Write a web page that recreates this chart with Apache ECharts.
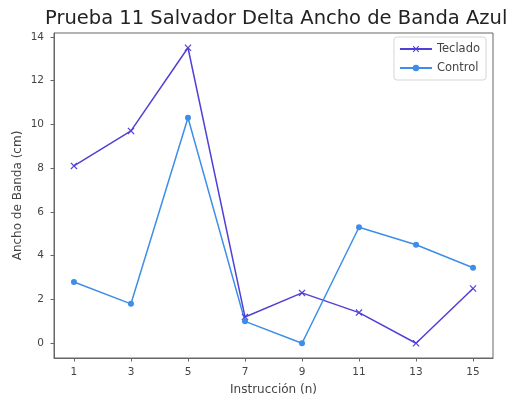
<!DOCTYPE html>
<html>
<head>
<meta charset="utf-8">
<script src="https://cdn.jsdelivr.net/npm/echarts@6/dist/echarts.min.js"></script>
<style>
  html, body { margin: 0; padding: 0; background: #fff; }
  #chart { width: 510px; height: 401px; }
</style>
</head>
<body>
<div id="chart"></div>
<script>
// Instruction numbers and band-width measurements (cm)
const instrucciones = [1, 3, 5, 7, 9, 11, 13, 15];
const teclado = [8.1, 9.7, 13.5, 1.2, 2.3, 1.4, 0.0, 2.5];
const control = [2.8, 1.8, 10.3, 1.0, 0.0, 5.3, 4.5, 3.45];
const xTicks = [1, 3, 5, 7, 9, 11, 13, 15];
const yTicks = [0, 2, 4, 6, 8, 10, 12, 14];

const font = 'DejaVu Sans';
const crossPath = 'path://M0,1.2L1.2,0L5,3.8L8.8,0L10,1.2L6.2,5L10,8.8L8.8,10L5,6.2L1.2,10L0,8.8L3.8,5Z';

const chart = echarts.init(document.getElementById('chart'));
chart.setOption({
  animation: false,
  backgroundColor: '#fff',
  title: {
    text: 'Prueba 11 Salvador Delta Ancho de Banda Azul',
    left: 40,
    top: 4,
    textStyle: { fontFamily: font, fontSize: 19.5, fontWeight: 'normal', color: '#222' }
  },
  legend: {
    right: 24,
    top: 37,
    orient: 'vertical',
    itemWidth: 32,
    itemHeight: 8,
    itemGap: 7,
    padding: [6, 6, 6, 5],
    backgroundColor: '#fff',
    borderColor: '#d6d6d6',
    borderWidth: 1,
    borderRadius: 3,
    textStyle: { fontFamily: font, fontSize: 11.5, color: '#444' },
    data: ['Teclado', 'Control']
  },
  grid: {
    left: 54, right: 17, top: 33, bottom: 41,
    show: true, borderColor: '#666', borderWidth: 1, backgroundColor: '#fff'
  },
  xAxis: {
    type: 'value',
    min: 0.3,
    max: 15.7,
    name: 'Instrucción (n)',
    nameLocation: 'middle',
    nameGap: 26,
    nameTextStyle: { fontFamily: font, fontSize: 12, color: '#444' },
    axisLine: { show: true, onZero: false, lineStyle: { color: '#666' } },
    axisTick: { show: true, length: 3.5, lineStyle: { color: '#666' }, customValues: xTicks },
    axisLabel: { fontFamily: font, fontSize: 10.5, color: '#444', margin: 9, customValues: xTicks },
    splitLine: { show: false }
  },
  yAxis: {
    type: 'value',
    min: -0.675,
    max: 14.175,
    name: 'Ancho de Banda (cm)',
    nameLocation: 'middle',
    nameGap: 30,
    nameMoveOverlap: false,
    nameTextStyle: { fontFamily: font, fontSize: 12, color: '#444' },
    axisLine: { show: true, onZero: false, lineStyle: { color: '#666' } },
    axisTick: { show: true, length: 3.5, lineStyle: { color: '#666' }, customValues: yTicks },
    axisLabel: { fontFamily: font, fontSize: 10.5, color: '#444', margin: 10, customValues: yTicks },
    splitLine: { show: false }
  },
  series: [
    {
      name: 'Teclado',
      type: 'line',
      data: instrucciones.map((x, i) => [x, teclado[i]]),
      symbol: crossPath,
      symbolSize: 7,
      showAllSymbol: true,
      color: '#5140d6',
      lineStyle: { width: 1.5, color: '#5140d6' },
      itemStyle: { color: '#5140d6' }
    },
    {
      name: 'Control',
      type: 'line',
      data: instrucciones.map((x, i) => [x, control[i]]),
      symbol: 'circle',
      symbolSize: 6,
      showAllSymbol: true,
      color: '#3d8ee8',
      lineStyle: { width: 1.5, color: '#3d8ee8' },
      itemStyle: { color: '#3d8ee8' }
    }
  ]
});
</script>
</body>
</html>
